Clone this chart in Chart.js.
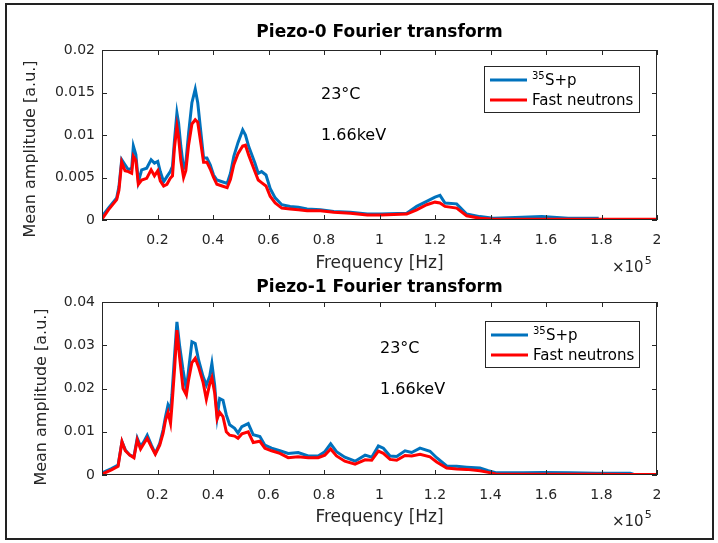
<!DOCTYPE html>
<html>
<head>
<meta charset="utf-8">
<script src="https://cdn.jsdelivr.net/npm/chart.js@4.4.1/dist/chart.umd.min.js"></script>
<style>
  body { margin: 0; background: #fff; }
  #wrap { position: relative; width: 718px; height: 543px; }
  #frame { position: absolute; left: 5px; top: 3px; width: 705px; height: 533px; border: 2px solid #222; }
  canvas { position: absolute; left: 0; }
</style>
</head>
<body>
<div id="wrap">
  <div id="frame"></div>
  <canvas id="piezo0" width="718" height="272" style="top:0px"></canvas>
  <canvas id="piezo1" width="718" height="271" style="top:272px"></canvas>
</div>
<script>
// frequency in units of 1e5 Hz
const xTicks = [0.2, 0.4, 0.6, 0.8, 1, 1.2, 1.4, 1.6, 1.8, 2];
const xTickLabels = ['0.2', '0.4', '0.6', '0.8', '1', '1.2', '1.4', '1.6', '1.8', '2'];

const yTicks0 = [0, 0.005, 0.01, 0.015, 0.02];
const yTickLabels0 = ['0', '0.005', '0.01', '0.015', '0.02'];
const yTicks1 = [0, 0.01, 0.02, 0.03, 0.04];
const yTickLabels1 = ['0', '0.01', '0.02', '0.03', '0.04'];

const seriesNames = ['35S+p', 'Fast neutrons'];

// Piezo-0
const freq0 = [0, 0.023, 0.053, 0.061, 0.071, 0.083, 0.095, 0.107, 0.113, 0.122, 0.131, 0.143, 0.161, 0.177, 0.189, 0.201, 0.210, 0.222, 0.234, 0.246, 0.254, 0.261, 0.270, 0.276, 0.284, 0.294, 0.302, 0.312, 0.324, 0.336, 0.345, 0.354, 0.366, 0.378, 0.390, 0.402, 0.414, 0.433, 0.451, 0.463, 0.475, 0.490, 0.507, 0.517, 0.529, 0.551, 0.563, 0.575, 0.591, 0.606, 0.624, 0.648, 0.678, 0.708, 0.739, 0.787, 0.835, 0.895, 0.956, 1.004, 1.098, 1.134, 1.170, 1.200, 1.218, 1.236, 1.278, 1.314, 1.362, 1.41, 1.49, 1.585, 1.68, 1.79, 2.0];
const sulfur0 = [0.0004, 0.0014, 0.0026, 0.0039, 0.0071, 0.0065, 0.0059, 0.0061, 0.0087, 0.0077, 0.0045, 0.0059, 0.0061, 0.0071, 0.0067, 0.0069, 0.0057, 0.0045, 0.0051, 0.0057, 0.0063, 0.0093, 0.0126, 0.0114, 0.0087, 0.0061, 0.0067, 0.0102, 0.0138, 0.0154, 0.0138, 0.0110, 0.0073, 0.0073, 0.0065, 0.0053, 0.0047, 0.0045, 0.0043, 0.0055, 0.0075, 0.0091, 0.0106, 0.0100, 0.0086, 0.0067, 0.0055, 0.0057, 0.0053, 0.0037, 0.0026, 0.0018, 0.0016, 0.0015, 0.0013, 0.0012, 0.0010, 0.0009, 0.0007, 0.0007, 0.0008, 0.0016, 0.0022, 0.0027, 0.0029, 0.0020, 0.0019, 0.0007, 0.0004, 0.0002, 0.0003, 0.0004, 0.0002, 0.0002, null];
const neutron0 = [0.0001, 0.0012, 0.0024, 0.0035, 0.0068, 0.0058, 0.0057, 0.0055, 0.0075, 0.0070, 0.0042, 0.0047, 0.0049, 0.0059, 0.0052, 0.0058, 0.0046, 0.0040, 0.0042, 0.0049, 0.0052, 0.0085, 0.0110, 0.0097, 0.0070, 0.0050, 0.0058, 0.0088, 0.0113, 0.0118, 0.0115, 0.0095, 0.0068, 0.0068, 0.0060, 0.0050, 0.0042, 0.0040, 0.0038, 0.0048, 0.0065, 0.0078, 0.0087, 0.0088, 0.0076, 0.0057, 0.0047, 0.0044, 0.0040, 0.0028, 0.0020, 0.0014, 0.0013, 0.0012, 0.0011, 0.0011, 0.0009, 0.0008, 0.0006, 0.0006, 0.0007, 0.0012, 0.0018, 0.0021, 0.0020, 0.0016, 0.0014, 0.0005, 0.0002, 0.0001, 0.0001, 0.0001, 0.0001, 0.0001, 0.0001];

// Piezo-1
const freq1 = [0, 0.034, 0.058, 0.072, 0.084, 0.100, 0.115, 0.127, 0.139, 0.151, 0.163, 0.178, 0.192, 0.208, 0.220, 0.229, 0.238, 0.247, 0.252, 0.262, 0.270, 0.280, 0.292, 0.304, 0.312, 0.324, 0.336, 0.348, 0.364, 0.376, 0.388, 0.396, 0.406, 0.415, 0.424, 0.436, 0.448, 0.460, 0.478, 0.490, 0.504, 0.527, 0.545, 0.569, 0.587, 0.611, 0.641, 0.671, 0.707, 0.743, 0.779, 0.803, 0.824, 0.845, 0.875, 0.912, 0.948, 0.972, 0.996, 1.014, 1.038, 1.062, 1.092, 1.116, 1.146, 1.182, 1.206, 1.242, 1.278, 1.314, 1.362, 1.392, 1.422, 1.518, 1.590, 1.686, 1.782, 1.903, 1.915, 2.0];
const sulfur1 = [0.0005, 0.0015, 0.0023, 0.0077, 0.0058, 0.0046, 0.0042, 0.0085, 0.0066, 0.0077, 0.0092, 0.0069, 0.0050, 0.0073, 0.0104, 0.0135, 0.0162, 0.0150, 0.0185, 0.0281, 0.0354, 0.0297, 0.0243, 0.0197, 0.0243, 0.0308, 0.0304, 0.0266, 0.0228, 0.0208, 0.0228, 0.0258, 0.0208, 0.0135, 0.0177, 0.0173, 0.0139, 0.0116, 0.0108, 0.0097, 0.0112, 0.0119, 0.0093, 0.0089, 0.0069, 0.0062, 0.0056, 0.0050, 0.0052, 0.0044, 0.0044, 0.0054, 0.0072, 0.0054, 0.0041, 0.0032, 0.0046, 0.0041, 0.0067, 0.0062, 0.0044, 0.0043, 0.0056, 0.0052, 0.0062, 0.0055, 0.0040, 0.0021, 0.0020, 0.0018, 0.0016, 0.0010, 0.0005, 0.0005, 0.0006, 0.0005, 0.0004, 0.0004, 0.0002, null];
const neutron1 = [0.0002, 0.0012, 0.0020, 0.0077, 0.0056, 0.0046, 0.0040, 0.0081, 0.0060, 0.0073, 0.0085, 0.0065, 0.0048, 0.0069, 0.0096, 0.0127, 0.0145, 0.0120, 0.0160, 0.0250, 0.0335, 0.0270, 0.0200, 0.0185, 0.0220, 0.0260, 0.0270, 0.0250, 0.0215, 0.0175, 0.0210, 0.0225, 0.0190, 0.0130, 0.0145, 0.0135, 0.0100, 0.0092, 0.0090, 0.0085, 0.0095, 0.0100, 0.0075, 0.0078, 0.0062, 0.0056, 0.0050, 0.0040, 0.0042, 0.0040, 0.0040, 0.0046, 0.0060, 0.0044, 0.0032, 0.0025, 0.0035, 0.0034, 0.0055, 0.0050, 0.0036, 0.0034, 0.0045, 0.0044, 0.0048, 0.0042, 0.0030, 0.0016, 0.0014, 0.0013, 0.0010, 0.0006, 0.0002, 0.0002, 0.0002, 0.0002, 0.0002, 0.0001, 0.0001, 0.0001];

const FONT = 'DejaVu Sans';
const INK = '#262626';
const BLUE = '#0072BD';
const RED = '#FF0000';

// draws the matlab style box, inside ticks, titles, texts and legend
const decoPlugin = {
  id: 'deco',
  afterDraw(chart, args, o) {
    const ctx = chart.ctx;
    const a = chart.chartArea;
    const xs = chart.scales.x, ys = chart.scales.y;
    ctx.save();
    ctx.strokeStyle = INK;
    ctx.lineWidth = 1;
    ctx.strokeRect(a.left + 0.5, a.top + 0.5, a.right - a.left - 1, a.bottom - a.top - 1);
    ctx.beginPath();
    xTicks.forEach(v => {
      const px = Math.round(xs.getPixelForValue(v)) + 0.5;
      ctx.moveTo(px, a.bottom); ctx.lineTo(px, a.bottom - 5);
      ctx.moveTo(px, a.top); ctx.lineTo(px, a.top + 5);
    });
    o.yTicks.forEach(v => {
      const py = Math.round(ys.getPixelForValue(v)) + 0.5;
      ctx.moveTo(a.left, py); ctx.lineTo(a.left + 5, py);
      ctx.moveTo(a.right, py); ctx.lineTo(a.right - 5, py);
    });
    ctx.stroke();

    const cx = (a.left + a.right) / 2;
    ctx.fillStyle = '#000';
    ctx.textAlign = 'center';
    ctx.textBaseline = 'middle';
    ctx.font = 'bold 17px ' + FONT;
    ctx.fillText(o.title, cx, o.titleY);

    ctx.fillStyle = INK;
    ctx.font = '17px ' + FONT;
    ctx.fillText('Frequency [Hz]', cx, o.xLabelY);

    ctx.save();
    ctx.font = '16px ' + FONT;
    ctx.translate(o.yLabelX, o.yLabelY);
    ctx.rotate(-Math.PI / 2);
    ctx.fillText('Mean amplitude [a.u.]', 0, 0);
    ctx.restore();

    // x10^5 multiplier
    ctx.textAlign = 'left';
    ctx.font = '15px ' + FONT;
    const mx = a.right - 45;
    ctx.fillText('\u00d710', mx, o.xLabelY + 4);
    const mw = ctx.measureText('\u00d710').width;
    ctx.font = '11px ' + FONT;
    ctx.fillText('5', mx + mw + 1, o.xLabelY - 3);

    // annotations
    ctx.fillStyle = '#000';
    ctx.font = '16px ' + FONT;
    ctx.fillText('23\u00b0C', o.noteX, o.noteY[0]);
    ctx.fillText('1.66keV', o.noteX, o.noteY[1]);

    // legend
    const L = o.legend;
    ctx.fillStyle = '#fff';
    ctx.fillRect(L.x, L.y, L.w, L.h);
    ctx.strokeStyle = INK;
    ctx.strokeRect(L.x + 0.5, L.y + 0.5, L.w, L.h);
    const rows = [L.y + 14, L.y + 34];
    [BLUE, RED].forEach((c, i) => {
      ctx.strokeStyle = c;
      ctx.lineWidth = 3;
      ctx.beginPath();
      ctx.moveTo(L.x + 6, rows[i]); ctx.lineTo(L.x + 43, rows[i]);
      ctx.stroke();
    });
    ctx.fillStyle = '#000';
    ctx.font = '10px ' + FONT;
    ctx.fillText(seriesNames[0].slice(0, 2), L.x + 48, rows[0] - 4);
    ctx.font = '15px ' + FONT;
    ctx.fillText(seriesNames[0].slice(2), L.x + 61, rows[0] + 1);
    ctx.fillText(seriesNames[1], L.x + 48, rows[1] + 1);
    ctx.restore();
  }
};

function makePanel(id, freq, blue, red, yTicks, yLabels, deco) {
  new Chart(document.getElementById(id), {
    type: 'line',
    data: {
      datasets: [
        { label: seriesNames[0], data: freq.map((f, i) => ({ x: f, y: blue[i] })), borderColor: BLUE, borderWidth: 3, pointRadius: 0, tension: 0, order: 2 },
        { label: seriesNames[1], data: freq.map((f, i) => ({ x: f, y: red[i] })), borderColor: RED, borderWidth: 3, pointRadius: 0, tension: 0, order: 1 }
      ]
    },
    options: {
      responsive: false,
      animation: false,
      layout: { padding: deco.padding },
      plugins: {
        legend: { display: false },
        tooltip: { enabled: false },
        deco: deco
      },
      scales: {
        x: {
          type: 'linear', min: 0, max: 2,
          afterFit: s => { s.height = 40; },
          afterBuildTicks: s => { s.ticks = xTicks.map(v => ({ value: v })); },
          grid: { display: false, drawTicks: false },
          border: { display: false },
          ticks: {
            padding: 12, color: INK, autoSkip: false, maxRotation: 0,
            font: { family: FONT, size: 14 },
            callback: (v, i) => xTickLabels[i]
          }
        },
        y: {
          min: yTicks[0], max: yTicks[yTicks.length - 1],
          afterFit: s => { s.width = 102; },
          afterBuildTicks: s => { s.ticks = yTicks.map(v => ({ value: v })); },
          grid: { display: false, drawTicks: false },
          border: { display: false },
          ticks: {
            padding: 7, color: INK,
            font: { family: FONT, size: 14 },
            callback: (v, i) => yLabels[i]
          }
        }
      }
    },
    plugins: [decoPlugin]
  });
}

makePanel('piezo0', freq0, sulfur0, neutron0, yTicks0, yTickLabels0, {
  padding: { left: 0, top: 50, right: 61, bottom: 12 },
  yTicks: yTicks0,
  title: 'Piezo-0 Fourier transform', titleY: 33,
  xLabelY: 264, yLabelX: 31, yLabelY: 149,
  noteX: 321, noteY: [95, 136],
  legend: { x: 484, y: 66, w: 155, h: 46 }
});

makePanel('piezo1', freq1, sulfur1, neutron1, yTicks1, yTickLabels1, {
  padding: { left: 0, top: 30, right: 61, bottom: 28 },
  yTicks: yTicks1,
  title: 'Piezo-1 Fourier transform', titleY: 16,
  xLabelY: 246, yLabelX: 42, yLabelY: 125,
  noteX: 380, noteY: [77, 118],
  legend: { x: 485, y: 49, w: 154, h: 46 }
});
</script>
</body>
</html>
